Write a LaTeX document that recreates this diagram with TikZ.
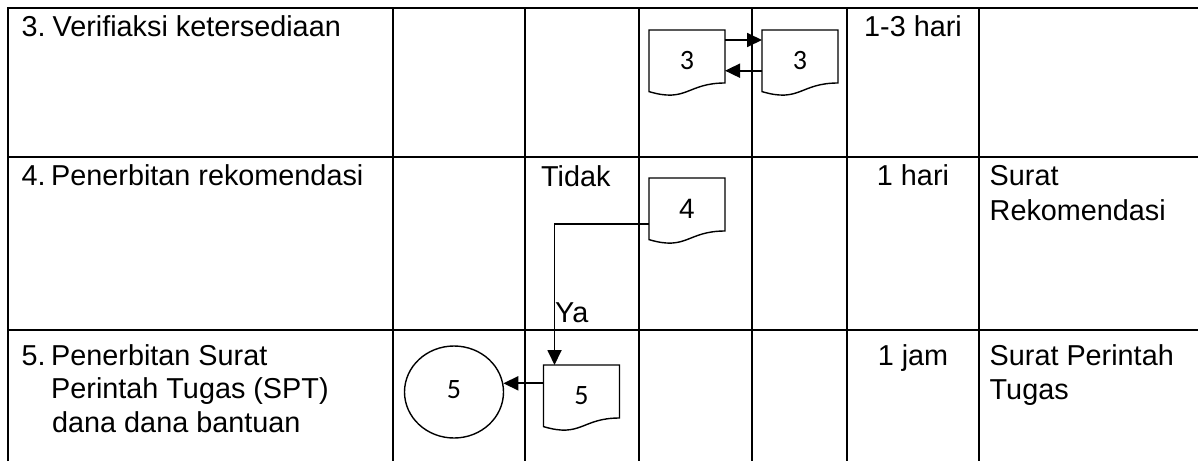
\documentclass[tikz,border=0pt]{standalone}
\usepackage{fontspec}
\setmainfont{Liberation Sans}
\newfontfamily\calib{Carlito}
\usetikzlibrary{arrows.meta,calc,shapes.geometric}

% document symbol: node holds the upper part, the wavy bottom is drawn below it
\newcommand\docoutline[1]{%
  \draw[docline] (#1.north west) -- (#1.north east) -- ($(#1.north east)+(0,53)$)
    .. controls ($(#1.north)+(0,53)$) and ($(#1.north)+(0,73)$) .. ($(#1.north west)+(0,61.6)$) -- cycle;}

\begin{document}
\begin{tikzpicture}[x=1pt,y=-1pt,
  grid/.style={line width=2.2pt},
  cell/.style={anchor=base west, inner sep=0pt, font=\fontsize{28.8}{33.5}\selectfont},
  cellc/.style={cell, anchor=base},
  docbox/.style={minimum width=76pt, minimum height=61pt, inner sep=0pt, outer sep=0pt,
                 font=\calib\fontsize{28}{32}\selectfont},
  docline/.style={line width=1.4pt},
  flow/.style={line width=1.8pt, -{Triangle[length=15pt,width=14pt]}},
]
\useasboundingbox (0,0) rectangle (1198,461);

% table rules
\draw[grid] (8,461) -- (8,8) -- (1198,8);
\draw[grid] (8,157) -- (1198,157);
\draw[grid] (8,330) -- (1198,330);
\foreach \x in {393,525,639,752,847,979} \draw[grid] (\x,8) -- (\x,461);

% row 3
\node[cell] (n3) at (21.5,36) {3.};
\node[cell] (t3) at (52.5,36) {Verifiaksi ketersediaan};
\node[cellc] (w3) at (913,36) {1-3 hari};
\node[docbox] (d3a) at (687,60.5) {3};
\node[docbox] (d3b) at (800,60.5) {3};
\docoutline{d3a}
\docoutline{d3b}
\draw[flow] ($(d3a.north east)+(0,10)$) -- ($(d3b.north west)+(0,10)$);
\draw[flow] ($(d3b.north west)+(0,40.7)$) -- ($(d3a.north east)+(0,40.7)$);

% row 4
\node[cell] (n4) at (21.5,185.5) {4.};
\node[cell] (t4) at (51,185.5) {Penerbitan rekomendasi};
\node[cell] (tidak) at (541,186) {Tidak};
\node[cellc] (w4) at (913,185.5) {1 hari};
\node[cell] (o4a) at (989.5,185.5) {Surat};
\node[cell] (o4b) at (989.5,220) {Rekomendasi};
\node[docbox, font=\fontsize{28}{32}\selectfont] (d4) at (687,208.5) {4};
\docoutline{d4}

% row 5
\node[cell] (n5) at (21.5,365) {5.};
\node[cell] (t5a) at (51,365) {Penerbitan Surat};
\node[cell] (t5b) at (51,398.5) {Perintah Tugas (SPT)};
\node[cell] (t5c) at (52,432) {dana dana bantuan};
\node[cellc] (w5) at (913,365) {1 jam};
\node[cell] (o5a) at (989.5,365) {Surat Perintah};
\node[cell] (o5b) at (989.5,399) {Tugas};
\node[docbox] (d5) at (581.5,395.5) {5};
\docoutline{d5}
\node[ellipse, draw, line width=1.4pt, minimum width=99pt, minimum height=92pt, inner sep=0pt,
      font=\calib\fontsize{28}{32}\selectfont] (c5) at (454,392) {\raisebox{5pt}{5}};

% connectors
\draw[flow] ($(d4.north west)+(0,46)$) -| ($(d5.north west)+(11,0)$);
\node[cell] (ya) at (555,322) {Ya};
\draw[flow] (d5.west |- c5.10) -- (c5.10);
\end{tikzpicture}
\end{document}
